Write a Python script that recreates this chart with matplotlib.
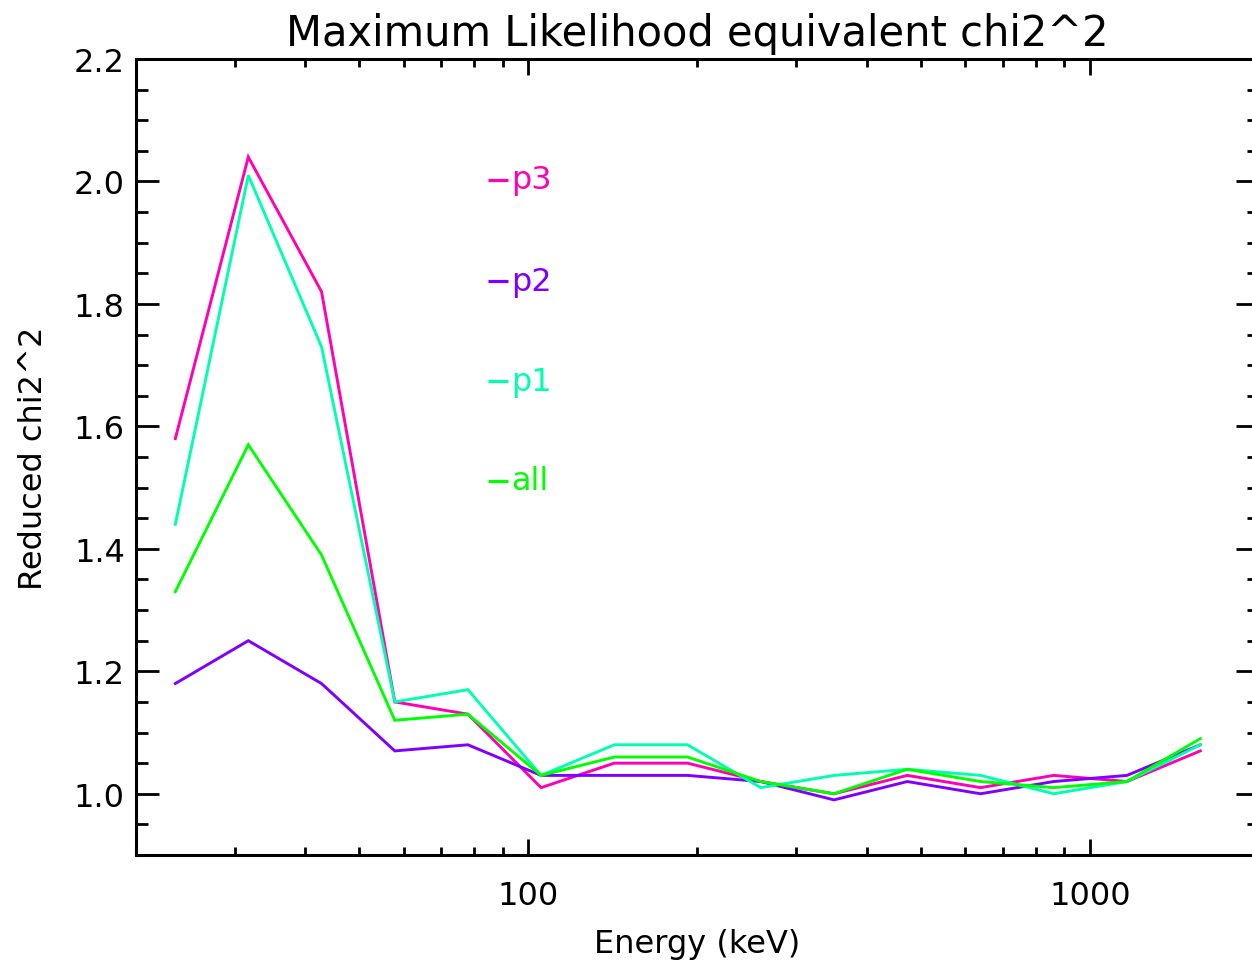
import matplotlib
matplotlib.use("Agg")
import matplotlib.pyplot as plt
from matplotlib.ticker import FixedLocator, FuncFormatter, MultipleLocator, NullFormatter

# Energy bin centres (keV)
energy = [23.5, 31.7, 42.8, 57.8, 78.0, 105.3, 142.2, 192.0,
          259.3, 350.1, 472.8, 638.4, 862.0, 1164.0, 1572.0]

# Reduced chi^2 per detector group
chi_p3 = [1.58, 2.04, 1.82, 1.15, 1.13, 1.01, 1.05, 1.05,
          1.02, 1.00, 1.03, 1.01, 1.03, 1.02, 1.07]
chi_p2 = [1.18, 1.25, 1.18, 1.07, 1.08, 1.03, 1.03, 1.03,
          1.02, 0.99, 1.02, 1.00, 1.02, 1.03, 1.08]
chi_p1 = [1.44, 2.01, 1.73, 1.15, 1.17, 1.03, 1.08, 1.08,
          1.01, 1.03, 1.04, 1.03, 1.00, 1.02, 1.08]
chi_all = [1.33, 1.57, 1.39, 1.12, 1.13, 1.03, 1.06, 1.06,
           1.02, 1.00, 1.04, 1.02, 1.01, 1.02, 1.09]

labels = ["p3", "p2", "p1", "all"]
colors = ["#FF00B4", "#8000FF", "#00FFB0", "#00FF00"]
series = [chi_p3, chi_p2, chi_p1, chi_all]

fig = plt.figure(figsize=(12.52, 9.62), dpi=100)
ax = fig.add_axes([136 / 1252, 106 / 962, 1123 / 1252, 796 / 962])

for vals, col in zip(series, colors):
    ax.plot(energy, vals, color=col, lw=2.1, solid_joinstyle="miter")

ax.set_xscale("log")
ax.set_xlim(20, 2000)
ax.set_ylim(0.9, 2.2)

# x ticks: decades labelled, intermediate values as minor ticks
ax.xaxis.set_major_locator(FixedLocator([100, 1000]))
ax.xaxis.set_major_formatter(FuncFormatter(lambda v, p: f"{v:.0f}"))
minor_x = [m * d for d in (10, 100, 1000) for m in range(2, 10)]
ax.xaxis.set_minor_locator(FixedLocator([v for v in minor_x if 20 < v < 2000]))
ax.xaxis.set_minor_formatter(NullFormatter())

ax.yaxis.set_major_locator(MultipleLocator(0.2))
ax.yaxis.set_minor_locator(MultipleLocator(0.05))
ax.yaxis.set_major_formatter(FuncFormatter(lambda v, p: f"{v:.1f}"))

for s in ax.spines.values():
    s.set_linewidth(2.2)

ax.tick_params(axis="both", which="both", direction="in",
               top=True, right=True, width=2.0, colors="black")
ax.tick_params(axis="y", which="major", length=16.5, labelsize=23, pad=8)
ax.tick_params(axis="y", which="minor", length=8.5)
ax.tick_params(axis="x", which="major", length=11.5, labelsize=23, pad=18)
ax.tick_params(axis="x", which="minor", length=5.8)

ax.set_xlabel("Energy (keV)", fontsize=23, labelpad=12)
ax.set_ylabel("Reduced chi2^2", fontsize=23, labelpad=18)
ax.set_title("Maximum Likelihood equivalent chi2^2", fontsize=30, pad=10)

# Series key drawn inside the plot area
key_y = [0.848, 0.721, 0.595, 0.470]
for lab, col, yk in zip(labels, colors, key_y):
    ax.plot([0.3134, 0.331], [yk, yk], transform=ax.transAxes,
            color=col, lw=2.3, solid_capstyle="butt")
    ax.text(0.334, yk, lab, transform=ax.transAxes, color=col,
            fontsize=23, va="center", ha="left")

fig.savefig("out.png", dpi=100)
